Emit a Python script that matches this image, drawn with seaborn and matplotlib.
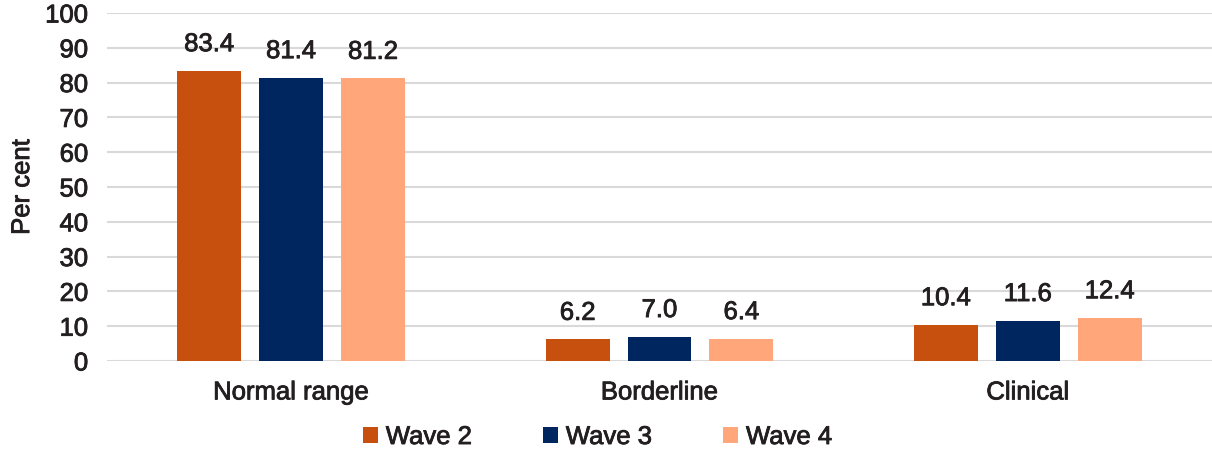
import matplotlib
matplotlib.use("Agg")
import matplotlib.pyplot as plt
import matplotlib.patheffects as pe
import seaborn as sns
import pandas as pd

# ---------------- data ----------------
categories = ["Normal range", "Borderline", "Clinical"]
waves = ["Wave 2", "Wave 3", "Wave 4"]
wave2 = [83.4, 6.2, 10.4]
wave3 = [81.4, 7.0, 11.6]
wave4 = [81.2, 6.4, 12.4]
colors = ["#C8500E", "#00265F", "#FFA77A"]
y_ticks = [0, 10, 20, 30, 40, 50, 60, 70, 80, 90, 100]

df = pd.DataFrame({
    "category": categories * 3,
    "wave": [w for w in waves for _ in categories],
    "value": wave2 + wave3 + wave4,
})

# ---------------- style ----------------
sns.set_theme(style="white")
plt.rcParams["font.family"] = ["Liberation Sans", "DejaVu Sans"]
FS = 18.5
TXT = "#231F20"
# slightly heavier strokes, the original uses a medium weight
thick = [pe.withStroke(linewidth=0.6, foreground=TXT)]

fig = plt.figure(figsize=(12.12, 4.51), dpi=100)
ax = fig.add_axes([0.0883, 0.1996, 0.9117, 0.7716])

sns.barplot(data=df, x="category", y="value", hue="wave",
            order=categories, hue_order=waves, palette=colors,
            width=0.667, gap=0.22, linewidth=0, saturation=1,
            errorbar=None, ax=ax)

for cont in ax.containers:
    for t in ax.bar_label(cont, fmt="%.1f", padding=10.5, fontsize=FS, color=TXT):
        t.set_path_effects(thick)

ax.set_ylim(0, 100)
ax.set_xlim(-0.5, 2.5)
ax.set_yticks(y_ticks)
ax.yaxis.grid(True, color="#D9D9D9", linewidth=1.5)
ax.set_axisbelow(True)
for s in ax.spines.values():
    s.set_visible(False)
ax.tick_params(axis="y", length=0, pad=13.5, labelsize=FS, labelcolor=TXT)
ax.tick_params(axis="x", length=0, pad=14, labelsize=FS, labelcolor=TXT)
for t in ax.get_xticklabels() + ax.get_yticklabels():
    t.set_path_effects(thick)
ax.set_xlabel("")
ax.set_ylabel("Per cent", fontsize=FS, color=TXT, path_effects=thick)
ax.yaxis.set_label_coords(-0.066, 0.5)

handles, labels = ax.get_legend_handles_labels()
ax.get_legend().remove()
leg = fig.legend(handles, labels, loc="center", bbox_to_anchor=(0.493, 0.031),
                 ncol=3, frameon=False, fontsize=FS, handlelength=0.6,
                 handleheight=0.6, handletextpad=0.3, columnspacing=2.75,
                 labelcolor=TXT)
for t in leg.get_texts():
    t.set_path_effects(thick)

fig.savefig("out.png", dpi=100)
